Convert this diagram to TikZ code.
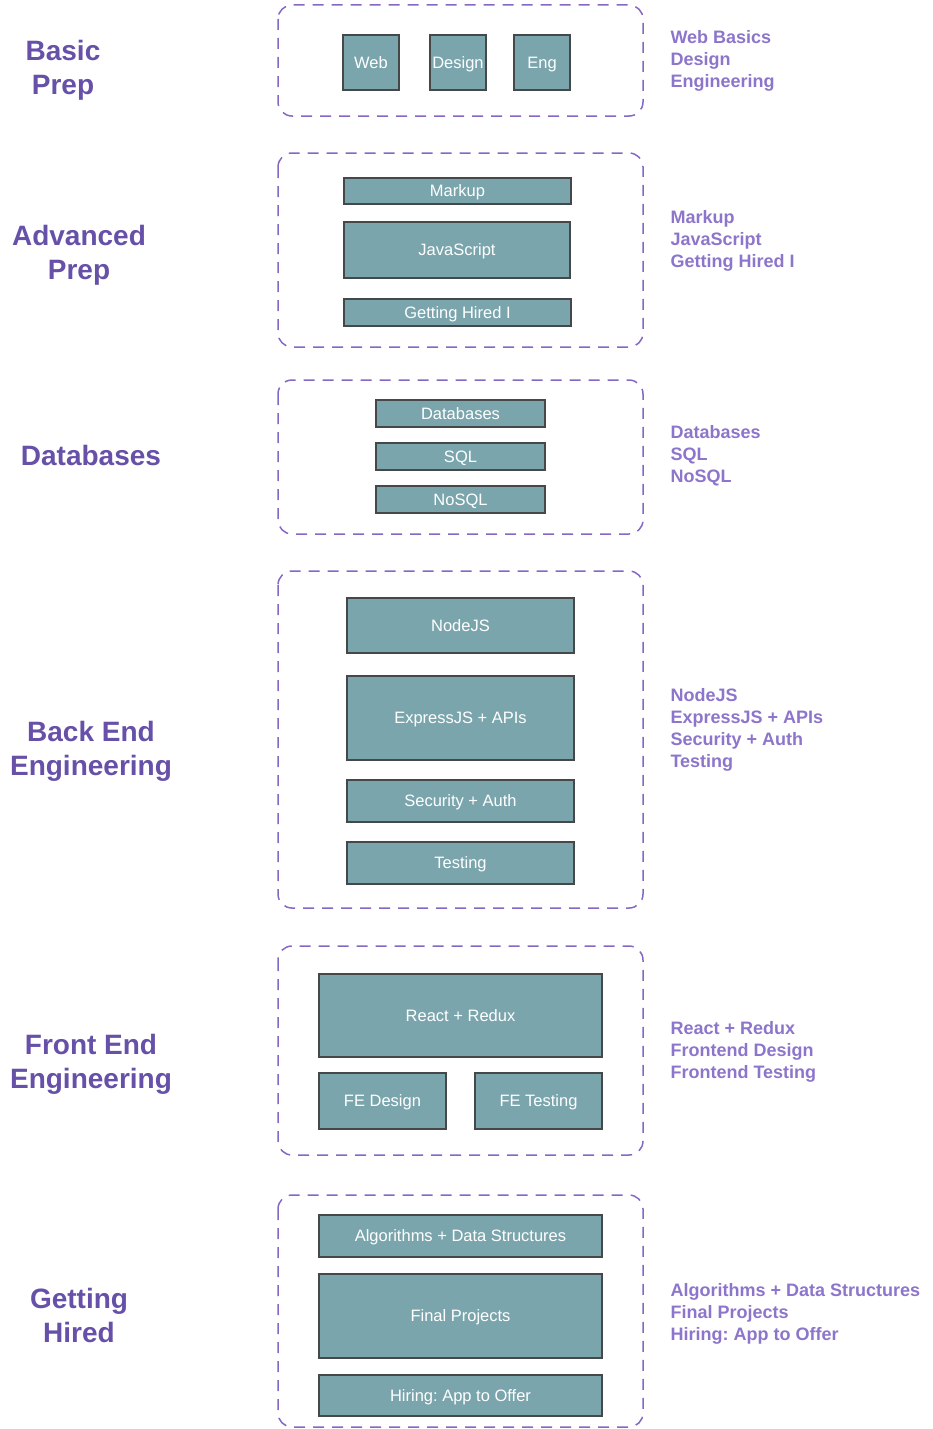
\documentclass[tikz,border=0pt]{standalone}
\usepackage{fontspec}
\setmainfont{Liberation Sans}
\frenchspacing
\definecolor{boxfill}{HTML}{7AA5AD}
\definecolor{boxline}{HTML}{454848}
\definecolor{headc}{HTML}{6650A8}
\definecolor{sidec}{HTML}{8C75CA}
\definecolor{dashc}{HTML}{8468C4}
\tikzset{
  cbox/.style={draw=boxline, line width=1.3pt, fill=boxfill, text=white, inner sep=0pt, outer sep=0pt,
    anchor=north west, text height=11.8pt, text depth=0pt, font=\fontsize{16.5}{19}\selectfont},
  group/.style={draw=dashc, line width=1.5pt, dash pattern=on 11pt off 8pt, rounded corners=14pt},
  head/.style={text=headc, align=center, font=\fontsize{28}{34}\selectfont\bfseries},
  side/.style={text=sidec, align=left, anchor=west, font=\fontsize{18}{22}\selectfont\bfseries}
}
\begin{document}
\begin{tikzpicture}[x=1pt,y=-1pt]
\useasboundingbox (0,0) rectangle (933,1429);
% groups
\draw[group] (278,5) rectangle (643,116);
\draw[group] (278,153) rectangle (643,347);
\draw[group] (278,380) rectangle (643,534);
\draw[group] (278,571) rectangle (643,908);
\draw[group] (278,946) rectangle (643,1155);
\draw[group] (278,1195) rectangle (643,1427);
% headings
\node[head] (h1) at (63,70) {Basic\\Prep};
\node[head] (h2) at (79,255) {Advanced\\Prep};
\node[head] (h3) at (91,455) {Databases};
\node[head] (h4) at (91,751) {Back End\\Engineering};
\node[head] (h5) at (91,1064) {Front End\\Engineering};
\node[head] (h6) at (79,1315) {Getting\\Hired};
% side texts
\node[side] (s1) at (667,61) {Web Basics\\Design\\Engineering};
\node[side] (s2) at (667,241) {Markup\\JavaScript\\Getting Hired I};
\node[side] (s3) at (667,456) {Databases\\SQL\\NoSQL};
\node[side] (s4) at (667,730) {NodeJS\\ExpressJS + APIs\\Security + Auth\\Testing};
\node[side] (s5) at (667,1052) {React + Redux\\Frontend Design\\Frontend Testing};
\node[side] (s6) at (667,1314) {Algorithms + Data Structures\\Final Projects\\Hiring: App to Offer};
% boxes
\node[cbox, minimum width=56pt, minimum height=55pt] (web) at (343,35) {Web};
\node[cbox, minimum width=56pt, minimum height=55pt] (design) at (430,35) {Design};
\node[cbox, minimum width=56pt, minimum height=55pt] (eng) at (514,35) {Eng};
\node[cbox, minimum width=227pt, minimum height=26pt] (markup) at (344,178) {Markup};
\node[cbox, minimum width=226pt, minimum height=56pt] (js) at (344,222) {JavaScript};
\node[cbox, minimum width=227pt, minimum height=27pt] (gh1) at (344,299) {Getting Hired I};
\node[cbox, minimum width=169pt, minimum height=27pt] (db) at (376,400) {Databases};
\node[cbox, minimum width=169pt, minimum height=27pt] (sql) at (376,443) {SQL};
\node[cbox, minimum width=169pt, minimum height=27pt] (nosql) at (376,486) {NoSQL};
\node[cbox, minimum width=227pt, minimum height=55pt] (node) at (347,598) {NodeJS};
\node[cbox, minimum width=227pt, minimum height=84pt] (express) at (347,676) {ExpressJS + APIs};
\node[cbox, minimum width=227pt, minimum height=42pt] (sec) at (347,780) {Security + Auth};
\node[cbox, minimum width=227pt, minimum height=42pt] (test) at (347,842) {Testing};
\node[cbox, minimum width=283pt, minimum height=83pt] (react) at (319,974) {React + Redux};
\node[cbox, minimum width=127pt, minimum height=56pt] (fed) at (319,1073) {FE Design};
\node[cbox, minimum width=127pt, minimum height=56pt] (fet) at (475,1073) {FE Testing};
\node[cbox, minimum width=283pt, minimum height=42pt] (algo) at (319,1215) {Algorithms + Data Structures};
\node[cbox, minimum width=283pt, minimum height=84pt] (final) at (319,1274) {Final Projects};
\node[cbox, minimum width=283pt, minimum height=41pt] (hiring) at (319,1375) {Hiring: App to Offer};
\end{tikzpicture}
\end{document}
